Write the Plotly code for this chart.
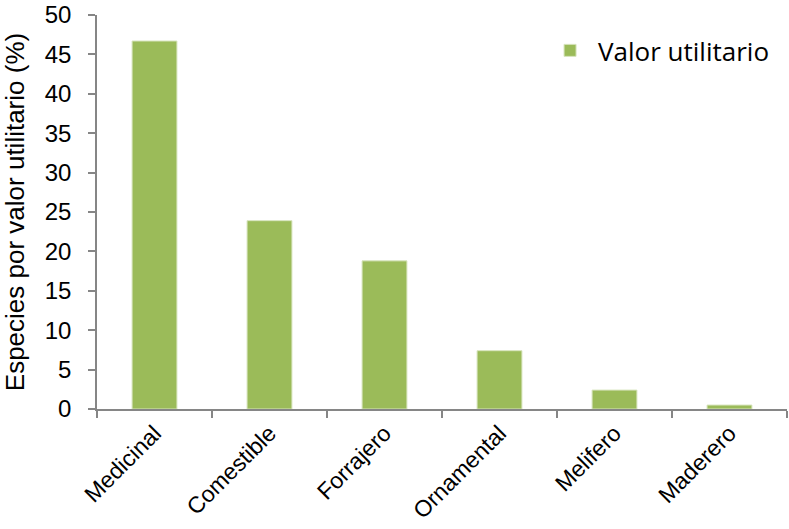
import plotly.graph_objects as go

categories = ["Medicinal", "Comestible", "Forrajero", "Ornamental", "Melifero", "Maderero"]
values = [46.7, 23.9, 18.8, 7.4, 2.4, 0.5]
series_name = "Valor utilitario"
y_ticks = [0, 5, 10, 15, 20, 25, 30, 35, 40, 45, 50]

fig = go.Figure()
fig.add_trace(go.Bar(
    x=categories, y=values, name=series_name,
    marker=dict(color="#9BBB59", line=dict(color="#D7E4BD", width=1)),
    showlegend=True,
))

fig.update_layout(
    width=789, height=529,
    margin=dict(l=97, r=2, t=15, b=120),
    plot_bgcolor="white", paper_bgcolor="white",
    bargap=0.61,
    font=dict(family="Liberation Sans, Arial", color="black"),
    legend=dict(x=0.645, y=0.91, xanchor="left", yanchor="middle",
                font=dict(family="Open Sans", size=26), bgcolor="rgba(0,0,0,0)",
                itemwidth=46),
    xaxis=dict(
        showline=True, linecolor="#868686", linewidth=1.5,
        ticks="outside", tickson="boundaries", ticklen=7, tickcolor="#868686", tickwidth=1.5,
        tickangle=-45, tickfont=dict(size=23),
    ),
    yaxis=dict(
        range=[0, 50], tickvals=y_ticks,
        showline=True, linecolor="#868686", linewidth=1.5,
        ticks="outside", ticklen=7, tickcolor="#868686", tickwidth=1.5,
        showgrid=False, zeroline=False,
        tickfont=dict(size=24), ticklabelstandoff=12,
        title=dict(text="Especies por valor utilitario (%)", font=dict(size=26), standoff=14),
    ),
)

fig.write_html("out.html")
